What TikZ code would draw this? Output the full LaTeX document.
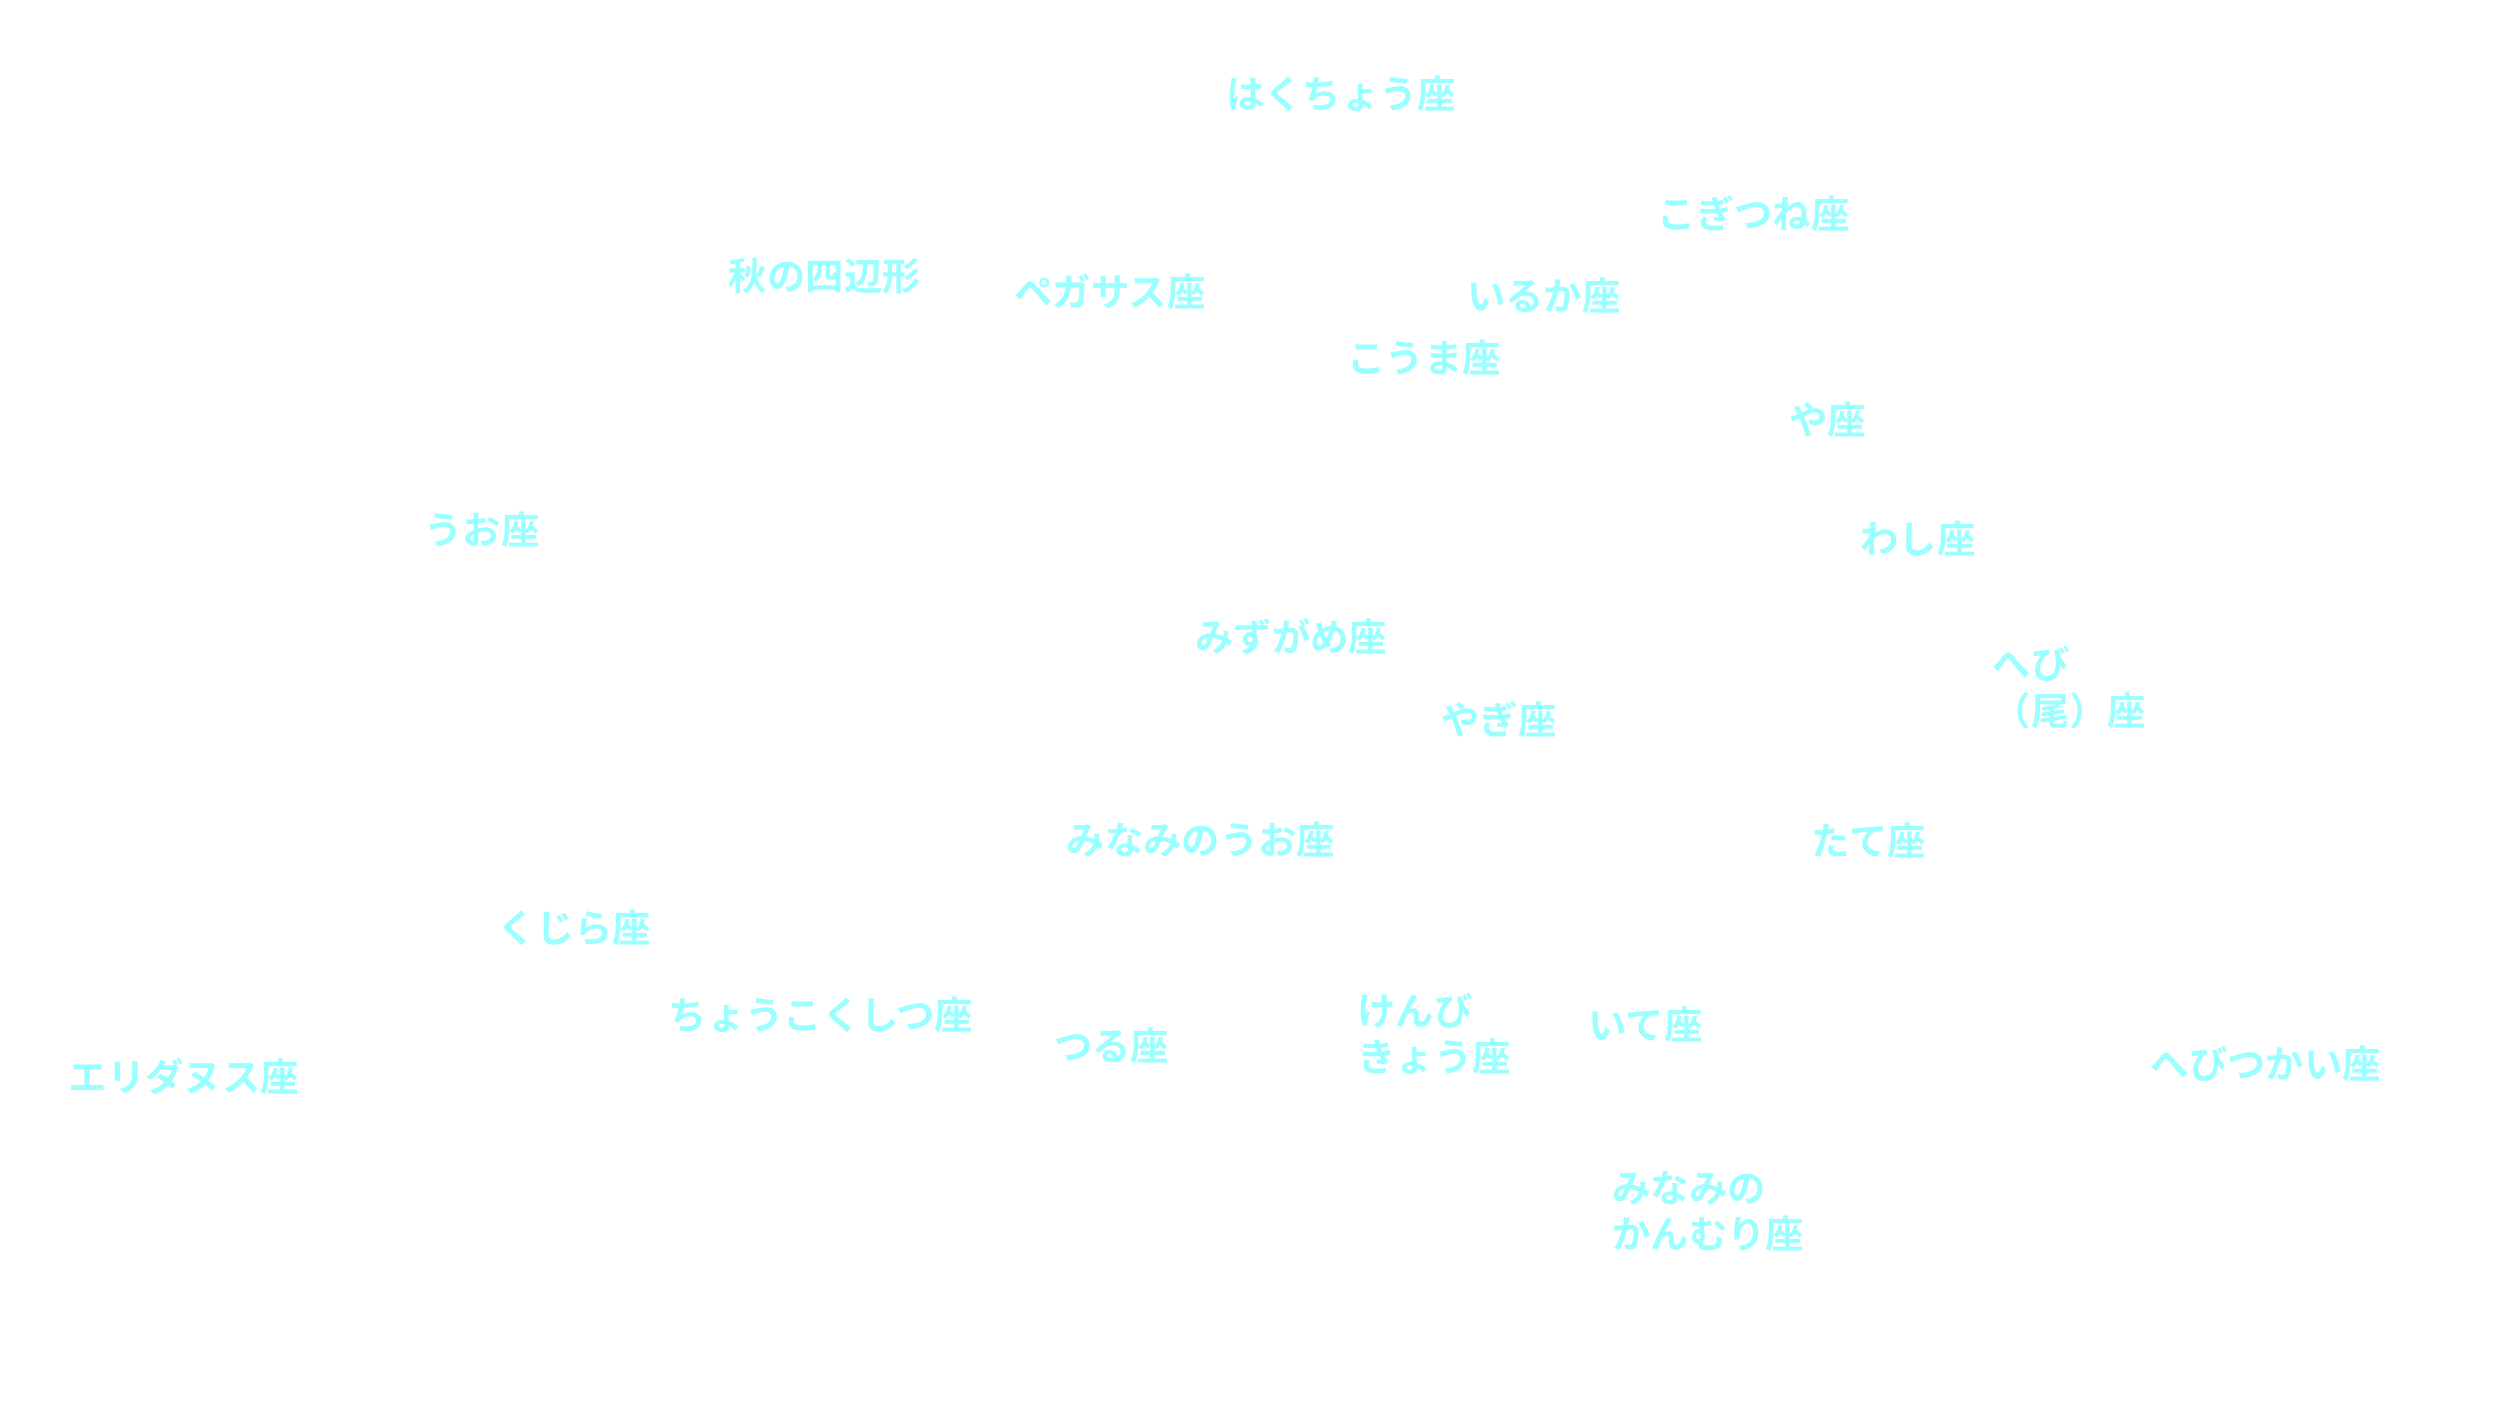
\documentclass[tikz,border=0pt]{standalone}
\usepackage{fontspec}
\newfontfamily\jp{Noto Sans CJK JP Bold}
\definecolor{lbl}{HTML}{99FFFF}
\begin{document}
\begin{tikzpicture}[x=0.00988cm,y=-0.0099cm,
  lab/.style={anchor=west,inner sep=0pt,text=lbl,font=\jp\fontsize{10.9pt}{13.2pt}\selectfont,align=left}]
\useasboundingbox[fill=white] (0,0) rectangle (2530,1414);
\node[lab] (n1) at (1240,95) {はくちょう座};
\node[lab] (n2) at (1677,215) {こぎつね座};
\node[lab] (n3) at (737,279) {秋の四辺形};
\node[lab] (n4) at (1026,294) {ペガサス座};
\node[lab] (n5) at (1484,298) {いるか座};
\node[lab] (n6) at (1363,361) {こうま座};
\node[lab] (n7) at (1810,423) {や座};
\node[lab] (n8) at (429,534) {うお座};
\node[lab] (n9) at (1882,544) {わし座};
\node[lab] (n10) at (1209,642) {みずがめ座};
\node[lab] (n11) at (2016,694) {へび\\（尾）座};
\node[lab] (n12) at (1458,726) {やぎ座};
\node[lab] (n13) at (1079,847) {みなみのうお座};
\node[lab] (n14) at (1832,848) {たて座};
\node[lab] (n15) at (503,936) {くじら座};
\node[lab] (n16) at (676,1024) {ちょうこくしつ座};
\node[lab] (n17) at (1373,1043) {けんび\\きょう座};
\node[lab] (n18) at (1607,1034) {いて座};
\node[lab] (n19) at (1066,1055) {つる座};
\node[lab] (n20) at (2176,1073) {へびつかい座};
\node[lab] (n21) at (69,1086) {エリダヌス座};
\node[lab] (n22) at (1631,1222) {みなみの\\かんむり座};
\end{tikzpicture}
\end{document}
